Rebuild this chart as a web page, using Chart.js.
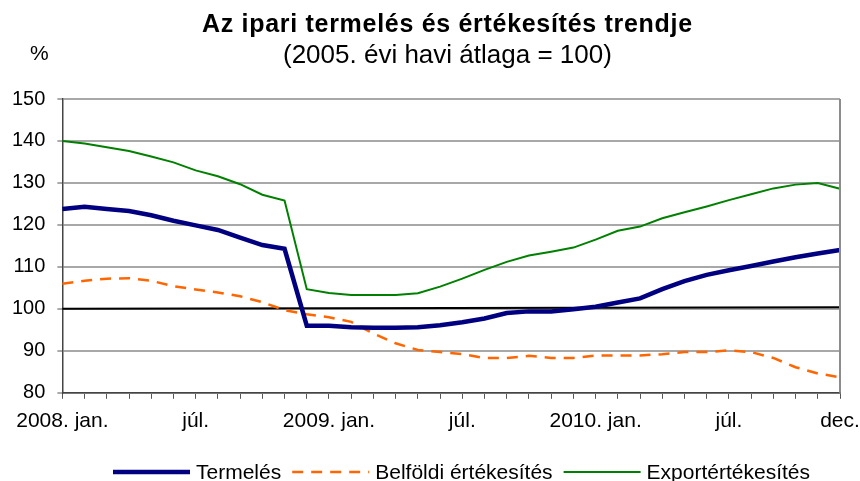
<!DOCTYPE html>
<html>
<head>
<meta charset="utf-8">
<script src="https://cdn.jsdelivr.net/npm/chart.js@4.4.1/dist/chart.umd.min.js"></script>
<style>
  html, body { margin: 0; padding: 0; background: #fff; }
  #wrap { width: 860px; height: 481px; position: relative; }
</style>
</head>
<body>
<div id="wrap"><canvas id="c" width="860" height="481"></canvas></div>
<script>
const categories = [
  '2008. jan.','febr.','márc.','ápr.','máj.','jún.','júl.','aug.','szept.','okt.','nov.','dec.',
  '2009. jan.','febr.','márc.','ápr.','máj.','jún.','júl.','aug.','szept.','okt.','nov.','dec.',
  '2010. jan.','febr.','márc.','ápr.','máj.','jún.','júl.','aug.','szept.','okt.','nov.','dec.'
];
const tickLabels = ['2008. jan.', 'júl.', '2009. jan.', 'júl.', '2010. jan.', 'júl.', 'dec.'];
const tickIndex = [0, 6, 12, 18, 24, 30, 35];

const termeles = [123.8,124.3,123.8,123.3,122.3,121.0,119.9,118.8,117.0,115.2,114.3,96.0,
                  96.0,95.6,95.5,95.5,95.6,96.1,96.8,97.7,99.0,99.4,99.4,99.9,
                  100.5,101.5,102.5,104.7,106.6,108.1,109.2,110.2,111.3,112.3,113.2,114.0];
const belfoldi = [106.0,106.7,107.2,107.3,106.7,105.4,104.6,103.9,103.0,101.6,99.7,98.7,
                  98.0,96.9,94.1,91.8,90.2,89.7,89.2,88.3,88.3,88.8,88.3,88.3,
                  88.9,88.9,88.9,89.2,89.7,89.7,90.1,89.7,88.3,86.1,84.6,83.7];
const export_ = [140.0,139.4,138.5,137.6,136.3,134.9,133.0,131.6,129.7,127.2,125.8,104.7,
                  103.8,103.3,103.3,103.3,103.7,105.3,107.2,109.3,111.2,112.7,113.6,114.6,
                  116.5,118.6,119.6,121.6,123.0,124.4,125.9,127.3,128.7,129.6,130.0,128.6];
const baseLine = [100.0, null,null,null,null,null,null,null,null,null,null,null,
                  null,null,null,null,null,null,null,null,null,null,null,null,
                  null,null,null,null,null,null,null,null,null,null,null,100.4];
const yTicks = [80, 90, 100, 110, 120, 130, 140, 150];

const titleText = 'Az ipari termelés és értékesítés trendje';
const subtitleText = '(2005. évi havi átlaga = 100)';
const unitText = '%';

const FONT = "'Liberation Sans', Arial, sans-serif";

const extras = {
  id: 'extras',
  afterDraw(chart) {
    const ctx = chart.ctx, a = chart.chartArea;
    ctx.save();
    // right frame line
    ctx.strokeStyle = '#8c8c8c';
    ctx.lineWidth = 2;
    ctx.beginPath();
    ctx.moveTo(a.right, a.top);
    ctx.lineTo(a.right, a.bottom);
    ctx.stroke();

    // titles
    ctx.fillStyle = '#000';
    ctx.textBaseline = 'alphabetic';
    ctx.textAlign = 'left';
    ctx.font = 'bold 25px ' + FONT;
    ctx.letterSpacing = '0.7px';
    ctx.fillText(titleText, 202, 32);
    ctx.font = '26px ' + FONT;
    ctx.letterSpacing = '0px';
    ctx.fillText(subtitleText, 283, 63);
    ctx.font = '21px ' + FONT;
    ctx.fillText(unitText, 30, 60);

    // legend
    const ly = 472;
    let x = 113;
    ctx.font = '21px ' + FONT;
    ctx.textBaseline = 'middle';
    chart.data.datasets.forEach(ds => {
      if (ds.label.startsWith('_')) return;
      ctx.save();
      ctx.strokeStyle = ds.borderColor;
      ctx.lineWidth = ds.borderWidth;
      ctx.setLineDash(ds.borderDash || []);
      ctx.beginPath();
      ctx.moveTo(x, ly);
      ctx.lineTo(x + 77, ly);
      ctx.stroke();
      ctx.restore();
      x += 77 + 6;
      ctx.fillText(ds.label, x, ly + 1);
      x += ctx.measureText(ds.label).width + 11;
    });
    ctx.restore();
  }
};

new Chart(document.getElementById('c'), {
  type: 'line',
  data: {
    labels: categories,
    datasets: [
      { label: 'Termelés', data: termeles, borderColor: '#000080', backgroundColor: '#000080',
        borderWidth: 4.5, pointRadius: 0, tension: 0, order: 1 },
      { label: 'Belföldi értékesítés', data: belfoldi, borderColor: '#ff6600', backgroundColor: '#ff6600',
        borderWidth: 2.5, borderDash: [11, 8], pointRadius: 0, tension: 0, order: 2 },
      { label: 'Exportértékesítés', data: export_, borderColor: '#008000', backgroundColor: '#008000',
        borderWidth: 2, pointRadius: 0, tension: 0, order: 3 },
      { label: '_base', data: baseLine, borderColor: '#000', borderWidth: 2, pointRadius: 0,
        spanGaps: true, order: 4 }
    ]
  },
  options: {
    responsive: false,
    animation: false,
    events: [],
    layout: { autoPadding: false, padding: { left: 0, right: 20, top: 99, bottom: 37 } },
    plugins: {
      tooltip: { enabled: false },
      title: { display: false },
      legend: { display: false }
    },
    scales: {
      x: {
        offset: false,
        afterFit: (s) => { s.paddingLeft = 0; s.paddingRight = 0; },
        grid: { drawOnChartArea: false, drawTicks: true, tickLength: 6, tickColor: '#555', tickWidth: 1 },
        border: { color: '#444', width: 1.5 },
        ticks: {
          autoSkip: false, maxRotation: 0, minRotation: 0, padding: 10,
          color: '#000', font: { family: FONT, size: 21 },
          callback: (v, i) => { const k = tickIndex.indexOf(i); return k >= 0 ? tickLabels[k] : ''; }
        }
      },
      y: {
        min: yTicks[0], max: yTicks[yTicks.length - 1],
        afterBuildTicks: (s) => { s.ticks = yTicks.map(v => ({ value: v })); },
        grid: { color: '#a8a8a8', lineWidth: 2, tickLength: 5, tickColor: '#555', tickWidth: 1 },
        border: { color: '#444', width: 1.5 },
        ticks: { padding: 12, color: '#000', font: { family: FONT, size: 20 } }
      }
    }
  },
  plugins: [extras]
});
</script>
</body>
</html>
